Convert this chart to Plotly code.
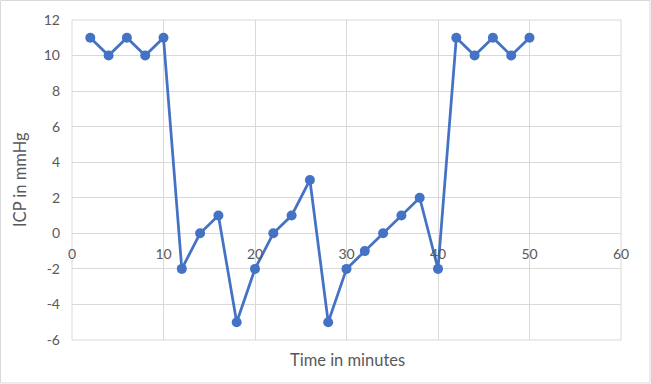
import plotly.graph_objects as go

time_min = [2, 4, 6, 8, 10, 12, 14, 16, 18, 20, 22, 24, 26, 28, 30, 32, 34, 36, 38, 40, 42, 44, 46, 48, 50]
icp = [11, 10, 11, 10, 11, -2, 0, 1, -5, -2, 0, 1, 3, -5, -2, -1, 0, 1, 2, -2, 11, 10, 11, 10, 11]

x_ticks = [0, 10, 20, 30, 40, 50, 60]
y_ticks = [-6, -4, -2, 0, 2, 4, 6, 8, 10, 12]
y_tick_labels = [str(v) for v in y_ticks]

W, H = 651, 384
L, R, T, B = 72, 30, 20, 44
pw, ph = W - L - R, H - T - B

def px(x):
    return (x - L) / pw

def py(y):
    return (H - B - y) / ph

fig = go.Figure()
fig.add_trace(go.Scatter(
    x=time_min, y=icp, mode="lines+markers",
    line=dict(color="#4472C4", width=2.75),
    marker=dict(color="#4472C4", size=10),
    showlegend=False,
))

font = dict(family="Lato, Carlito, Calibri, sans-serif", size=14, color="#595959")
title_font = dict(family=font["family"], size=16.5, color="#595959")

fig.update_layout(
    width=W, height=H,
    margin=dict(l=L, r=R, t=T, b=B),
    paper_bgcolor="white", plot_bgcolor="white",
    font=font,
    xaxis=dict(range=[0, 60], tickvals=x_ticks, showgrid=True, gridcolor="#D9D9D9", gridwidth=1,
               zeroline=False, showline=False, ticks="", anchor="free", position=6 / 18,
               tickfont=font, ticklabelstandoff=11, fixedrange=True),
    yaxis=dict(range=[-6, 12], tickvals=y_ticks, ticktext=y_tick_labels, showgrid=True,
               gridcolor="#D9D9D9", gridwidth=1, zeroline=False, showline=False, ticks="",
               tickfont=font, ticklabelstandoff=11, fixedrange=True),
    annotations=[
        dict(text="Time in minutes", xref="paper", yref="paper", x=px(347), y=py(360),
             xanchor="center", yanchor="middle", showarrow=False, font=title_font),
        dict(text="ICP in mmHg", xref="paper", yref="paper", x=px(20), y=py(180), textangle=-90,
             xanchor="center", yanchor="middle", showarrow=False, font=title_font),
    ],
    shapes=[
        dict(type="rect", xref="paper", yref="paper", x0=0, x1=1, y0=0, y1=1,
             line=dict(color="#D9D9D9", width=1), layer="below"),
        dict(type="rect", xref="paper", yref="paper", x0=px(0.5), x1=px(650), y0=py(383), y1=py(0.5),
             line=dict(color="#D9D9D9", width=1)),
    ],
)

fig.write_html("out.html", config={"displayModeBar": False},
               post_script="document.body.style.margin='0';")
